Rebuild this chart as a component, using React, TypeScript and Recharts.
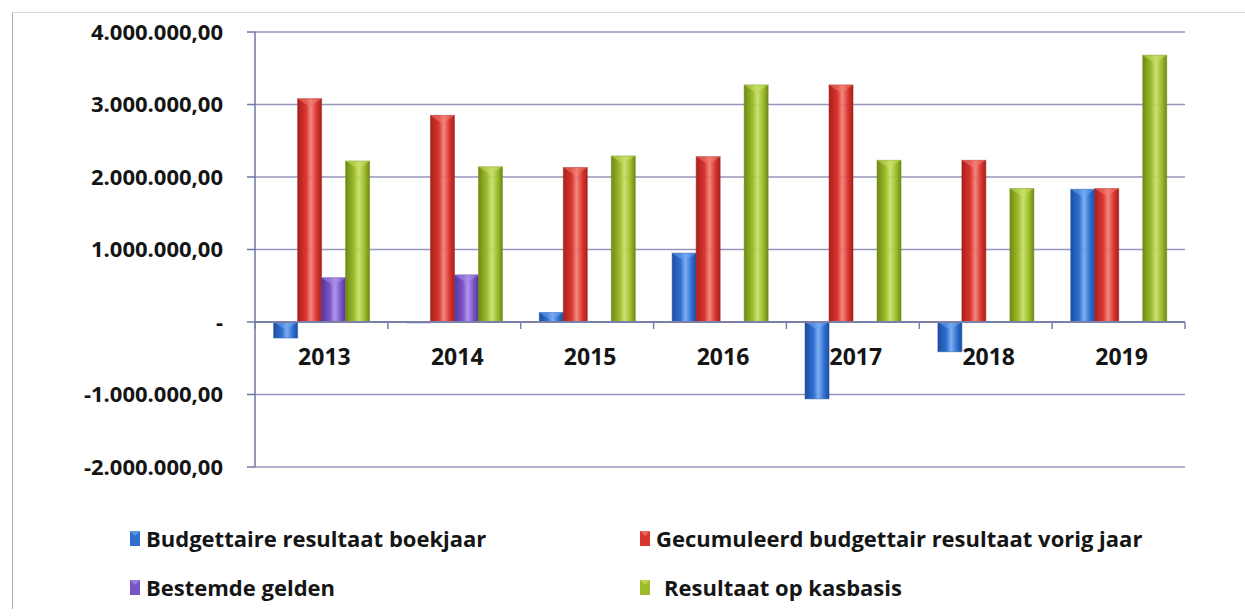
import React from "react";
import { BarChart, Bar, XAxis, YAxis, CartesianGrid, ReferenceLine } from "recharts";

const years = ["2013", "2014", "2015", "2016", "2017", "2018", "2019"];
const budgettaire = [-220000, -12000, 130000, 950000, -1060000, -410000, 1830000];
const gecumuleerd = [3080000, 2850000, 2130000, 2280000, 3270000, 2230000, 1840000];
const bestemde = [610000, 650000, 0, 0, 0, 0, 0];
const kasbasis = [2220000, 2140000, 2290000, 3270000, 2230000, 1840000, 3680000];
const yTicks = [-2000000, -1000000, 0, 1000000, 2000000, 3000000, 4000000];

const series = [
  { key: "budgettaire", name: "Budgettaire resultaat boekjaar", base: "#2f6fd0", dark: "#1c4fa3", light: "#6fa6ee" },
  { key: "gecumuleerd", name: "Gecumuleerd budgettair resultaat vorig jaar", base: "#d9352f", dark: "#a8201c", light: "#f07a70" },
  { key: "bestemde", name: "Bestemde gelden", base: "#7a55c8", dark: "#563598", light: "#a78be6" },
  { key: "kasbasis", name: "Resultaat op kasbasis", base: "#9cbc2c", dark: "#6f8a16", light: "#c6de64" },
];

const rows = years.map((year, i) => ({
  year,
  budgettaire: budgettaire[i],
  gecumuleerd: gecumuleerd[i],
  bestemde: bestemde[i],
  kasbasis: kasbasis[i],
}));

const W = 1245;
const H = 500;
const X_AXIS_H = 20;
const M = { top: 32, right: 60, bottom: 13, left: 0 };
const Y_MIN = -2000000;
const Y_MAX = 4000000;
const PLOT_H = H - M.top - M.bottom - X_AXIS_H;
const ZERO_Y = M.top + PLOT_H * (Y_MAX / (Y_MAX - Y_MIN));
const CAT_W = (W - M.right - 255) / years.length;
const FONT = "'Open Sans', sans-serif";

const fmt = (v: number) => {
  if (v === 0) return "-";
  const abs = Math.abs(v).toFixed(0).replace(/\B(?=(\d{3})+(?!\d))/g, ".");
  return (v < 0 ? "-" : "") + abs + ",00";
};

// year labels sit just under the zero line, not at the bottom of the plot
const YearTick = (props: any) => {
  const { x, payload, index } = props;
  return (
    <g>
      <line x1={x - CAT_W / 2} x2={x - CAT_W / 2} y1={ZERO_Y} y2={ZERO_Y + 7} stroke="#7c80a8" strokeWidth={1.5} />
      {index === years.length - 1 && (
        <line x1={x + CAT_W / 2} x2={x + CAT_W / 2} y1={ZERO_Y} y2={ZERO_Y + 7} stroke="#7c80a8" strokeWidth={1.5} />
      )}
      <text x={x + 3} y={ZERO_Y + 43} textAnchor="middle" fontFamily={FONT} fontWeight={700} fontSize={23} fill="#151515">
        {payload.value}
      </text>
    </g>
  );
};

// cylinder-like bar: gradient body plus a pale notch at the top
const makeShape = (key: string, light: string, dark: string) => (props: any) => {
  const { x, y, width, height } = props;
  if (!height) return <g />;
  const top = Math.min(y, y + height);
  const h = Math.abs(height);
  const cap = Math.min(8, h);
  return (
    <g>
      <rect x={x} y={top} width={width} height={h} fill={`url(#grad-${key})`} stroke={dark} strokeOpacity={0.5} strokeWidth={1} />
      <polygon points={`${x},${top} ${x + width},${top} ${x + width / 2},${top + cap}`} fill={light} opacity={0.55} />
    </g>
  );
};

const Swatch = ({ s }: { s: (typeof series)[number] }) => (
  <svg width={10} height={15} style={{ display: "block" }}>
    <rect x={0} y={0} width={10} height={15} fill={s.base} />
    <polygon points="0,0 10,0 5,5" fill={s.light} opacity={0.7} />
  </svg>
);

export default function App() {
  return (
    <div style={{ position: "absolute", left: 0, top: 0, width: W, height: 616, background: "#fff", fontFamily: FONT }}>
      <div style={{ position: "absolute", left: 12, top: 12, width: W - 12, height: 596, borderLeft: "1.5px solid #a9abc0", borderTop: "1.5px solid #d6d7e2" }} />
      <div style={{ position: "absolute", left: 0, top: 0 }}>
        <BarChart width={W} height={H} data={rows} margin={M} barGap={0} barCategoryGap="14%">
          <defs>
            {series.map((s) => (
              <linearGradient key={s.key} id={`grad-${s.key}`} x1="0" y1="0" x2="1" y2="0">
                <stop offset="0%" stopColor={s.dark} />
                <stop offset="35%" stopColor={s.base} />
                <stop offset="55%" stopColor={s.light} stopOpacity={0.9} />
                <stop offset="80%" stopColor={s.base} />
                <stop offset="100%" stopColor={s.dark} />
              </linearGradient>
            ))}
          </defs>
          <CartesianGrid vertical={false} stroke="#9497ba" strokeWidth={1.5} />
          <XAxis dataKey="year" height={X_AXIS_H} axisLine={false} tickLine={false} tick={YearTick} interval={0} />
          <YAxis
            width={255}
            domain={[Y_MIN, Y_MAX]}
            ticks={yTicks}
            tickFormatter={fmt}
            axisLine={{ stroke: "#6f74a6", strokeWidth: 1.5 }}
            tickLine={{ stroke: "#6f74a6", strokeWidth: 1.5 }}
            tickSize={8}
            tickMargin={24}
            tick={{ fontFamily: FONT, fontWeight: 700, fontSize: 22, fill: "#151515" }}
          />
          <ReferenceLine y={0} stroke="#7c80a8" strokeWidth={2} />
          {series.map((s) => (
            <Bar key={s.key} dataKey={s.key} name={s.name} fill={s.base} shape={makeShape(s.key, s.light, s.dark)} isAnimationActive={false} />
          ))}
        </BarChart>
      </div>
      <div style={{ position: "absolute", left: 130, top: 528, width: 1100, display: "grid", gridTemplateColumns: "510px 590px", rowGap: 29 }}>
        {series.map((s, i) => (
          <div key={s.key} style={{ display: "flex", alignItems: "center", height: 20 }}>
            <Swatch s={s} />
            <span style={{ marginLeft: i === 3 ? 14 : 6, fontWeight: 700, fontSize: 22, color: "#151515", whiteSpace: "nowrap" }}>{s.name}</span>
          </div>
        ))}
      </div>
    </div>
  );
}
